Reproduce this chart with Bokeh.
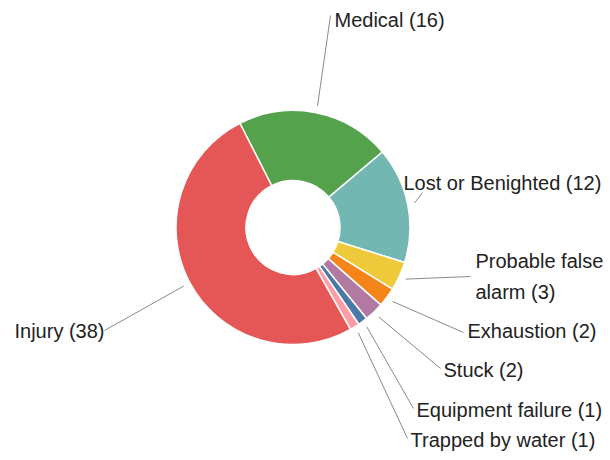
import math
import textwrap
from bokeh.plotting import figure
from bokeh.models import Range1d, ColumnDataSource
from bokeh.embed import file_html
from bokeh.resources import INLINE
from bokeh.core.properties import value

# ---- data ----
categories = ["Medical", "Lost or Benighted", "Probable false alarm", "Exhaustion",
              "Stuck", "Equipment failure", "Trapped by water", "Injury"]
counts = [16, 12, 3, 2, 2, 1, 1, 38]

# ---- styles (Vega tableau10, assigned alphabetically) ----
colors = ["#54a24b", "#72b7b2", "#eeca3b", "#f58518",
          "#b279a2", "#4c78a8", "#ff9da6", "#e45756"]

# ---- layout (screen pixel coordinates) ----
W, H = 610, 460
CX, CY = 292.5, 227.0          # donut centre (screen)
R_OUT, R_IN = 117, 47
START_DEG = -27.0              # clockwise from 12 o'clock
LEADER_R = 124
# (leader end x, leader end y, text x, text baseline y, wrap width)
label_layout = [
    (330, 15, 334, 27, None),
    (422, 192, 403, 190, None),
    (470, 276, 475, 268, 14),
    (463, 332, 467, 338, None),
    (440, 368, 443, 377, None),
    (413, 408, 416, 417, None),
    (407, 438, 410, 447, None),
    (104, 330, 14, 338, None),
]
LINE_GAP = 31
TEXT_DY = -8   # correction for renderer's baseline placement


def sy(y):
    return H - y


total = float(sum(counts))
starts, ends, mids = [], [], []
acc = START_DEG
for c in counts:
    span = 360.0 * c / total
    starts.append(acc)
    mids.append(acc + span / 2)
    acc += span
    ends.append(acc)

wedges = ColumnDataSource(dict(
    start=[math.radians(90 - a) for a in starts],
    end=[math.radians(90 - a) for a in ends],
    color=colors,
    cat=categories,
))

p = figure(width=W, height=H, output_backend="svg", toolbar_location=None,
           x_range=Range1d(0, W), y_range=Range1d(0, H),
           min_border=0, x_axis_location=None, y_axis_location=None)
p.grid.visible = False
p.outline_line_color = None
p.background_fill_color = "white"

p.annular_wedge(x=CX, y=sy(CY), inner_radius=R_IN, outer_radius=R_OUT,
                start_angle="start", end_angle="end", direction="clock",
                fill_color="color", line_color="white", line_width=1.5,
                source=wedges)

x0, y0, x1, y1 = [], [], [], []
tx, ty, tt = [], [], []
for cat, n, m, lay in zip(categories, counts, mids, label_layout):
    ex, ey, lx, ly, wrap = lay
    r = math.radians(m)
    x0.append(CX + LEADER_R * math.sin(r))
    y0.append(sy(CY - LEADER_R * math.cos(r)))
    x1.append(ex)
    y1.append(sy(ey))
    label = f"{cat} ({n})"
    lines = textwrap.wrap(label, wrap) if wrap else [label]
    for i, ln in enumerate(lines):
        tx.append(lx)
        ty.append(sy(ly + TEXT_DY + i * LINE_GAP))
        tt.append(ln)

p.segment(x0=x0, y0=y0, x1=x1, y1=y1, line_color="#8a8a8a", line_width=1)
p.text(x=tx, y=ty, text=tt, text_font=value("Liberation Sans"),
       text_font_size="20px", text_baseline="alphabetic", text_align="left",
       text_color="#222222")

open("out.html", "w").write(file_html(p, INLINE))
